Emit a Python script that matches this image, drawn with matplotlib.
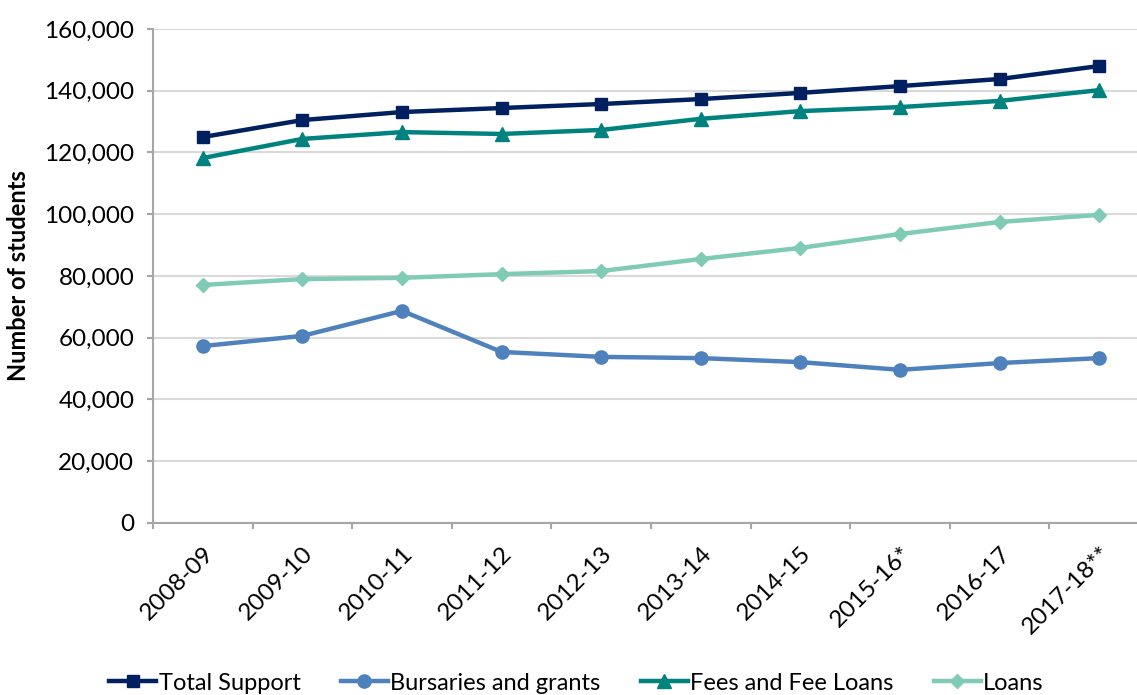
import numpy as np
import matplotlib.pyplot as plt
from matplotlib.ticker import FuncFormatter

plt.rcParams['font.family'] = ['Lato', 'DejaVu Sans']

years = ['2008-09', '2009-10', '2010-11', '2011-12', '2012-13', '2013-14',
         '2014-15', '2015-16*', '2016-17', '2017-18**']
total_support = [125000, 130500, 133100, 134400, 135700, 137300, 139300, 141500, 143800, 148000]
bursaries = [57300, 60600, 68700, 55400, 53800, 53400, 52100, 49600, 51800, 53400]
fees = [118200, 124400, 126600, 126000, 127300, 130900, 133400, 134700, 136700, 140200]
loans = [77100, 79000, 79400, 80600, 81600, 85500, 89100, 93600, 97500, 99800]

fig = plt.figure(figsize=(11.37, 6.95), dpi=100)
ax = fig.add_axes([0.1346, 0.2475, 0.876, 0.7108])

x = np.arange(len(years))
ax.plot(x, total_support, color='#002060', lw=3.2, marker='s', ms=9, label='Total Support', zorder=5)
ax.plot(x, bursaries, color='#4F81BD', lw=3.2, marker='o', ms=9.5, label='Bursaries and grants', zorder=3)
ax.plot(x, fees, color='#00827F', lw=3.2, marker='^', ms=9.5, label='Fees and Fee Loans', zorder=4)
ax.plot(x, loans, color='#80CBB6', lw=3.2, marker='D', ms=7, label='Loans', zorder=3)

ax.set_xlim(-0.5, len(years) - 0.5)
ax.set_ylim(0, 160000)
ax.set_yticks(np.arange(0, 160001, 20000))
ax.yaxis.set_major_formatter(FuncFormatter(lambda v, p: '{:,.0f}'.format(v)))
ax.grid(axis='y', color='#d9d9d9', lw=1.5)
ax.set_axisbelow(True)

ax.set_xticks(x)
ax.set_xticklabels(years, rotation=45, ha='right', rotation_mode='anchor')
ax.set_xticks(np.arange(-0.5, len(years), 1), minor=True)
ax.tick_params(axis='x', which='major', length=0, pad=14, labelsize=17.5)
ax.tick_params(axis='x', which='minor', length=4.5, color='#a6a6a6', width=1.5)
ax.tick_params(axis='y', length=4.5, color='#a6a6a6', width=1.5, labelsize=17.5, pad=9)

for s in ['top', 'right']:
    ax.spines[s].set_visible(False)
for s in ['left', 'bottom']:
    ax.spines[s].set_color('#a6a6a6')
    ax.spines[s].set_linewidth(1.5)

ax.set_ylabel('Number of students', fontsize=17, fontweight='bold', labelpad=10)

fig.legend(loc='center', bbox_to_anchor=(0.507, 0.017), ncol=4, frameon=False,
           fontsize=17, handlelength=2.0, handletextpad=0.1, columnspacing=1.7)

plt.savefig('out.png', dpi=100)
